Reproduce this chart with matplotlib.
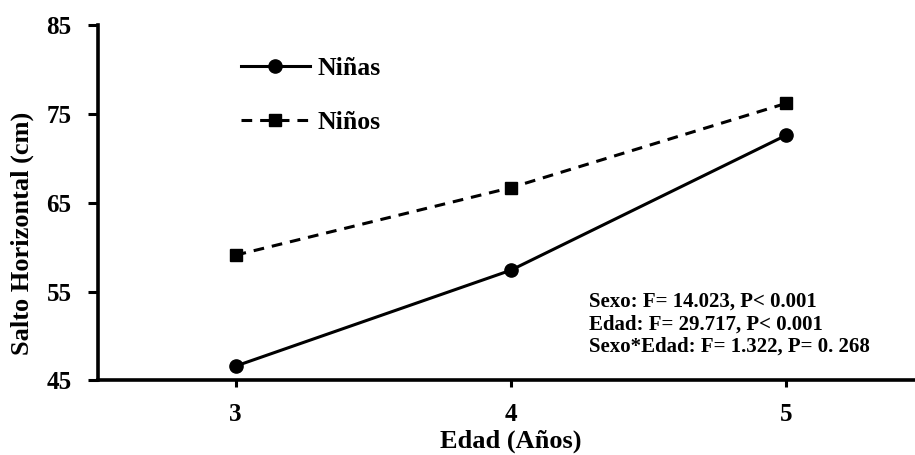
import matplotlib
matplotlib.use("Agg")
import matplotlib.pyplot as plt

# Data
edades = [3, 4, 5]
ninas = [46.6, 57.4, 72.6]
ninos = [59.1, 66.7, 76.2]
y_ticks = [45, 55, 65, 75, 85]
stats_lines = [
    "Sexo: F= 14.023, P< 0.001",
    "Edad: F= 29.717, P< 0.001",
    "Sexo*Edad: F= 1.322, P= 0. 268",
]

plt.rcParams["font.family"] = ["Liberation Serif", "DejaVu Serif"]
plt.rcParams["font.weight"] = "bold"

W, H = 915, 455
ax_left, ax_bottom, ax_w, ax_h = 98, 74.7, 825.5, 355
fig = plt.figure(figsize=(W / 100, H / 100), dpi=100)
ax = fig.add_axes([ax_left / W, ax_bottom / H, ax_w / W, ax_h / H])

lw = 2.2
ax.plot(edades, ninas, color="black", lw=lw, marker="o", markersize=9.5,
        label="Niñas", clip_on=False)
ax.plot(edades, ninos, color="black", lw=lw, marker="s", markersize=9,
        linestyle=(0, (3.5, 2.6)), label="Niños", clip_on=False)

ax.set_xlim(2.5, 5.5)
ax.set_ylim(45, 85)
ax.set_xticks(edades)
ax.set_yticks(y_ticks)
ax.tick_params(axis="both", labelsize=18, width=2.2, color="black")
ax.tick_params(axis="y", length=7, pad=12)
ax.tick_params(axis="x", length=5, pad=11)
for lab in ax.get_xticklabels() + ax.get_yticklabels():
    lab.set_fontweight("bold")

for s in ["top", "right"]:
    ax.spines[s].set_visible(False)
for s in ["left", "bottom"]:
    ax.spines[s].set_linewidth(2.6)

ax.set_xlabel("Edad (Años)", fontsize=19, fontweight="bold")
ax.xaxis.set_label_coords((511 - ax_left) / ax_w, -(441 - (H - ax_bottom)) / ax_h)
ax.xaxis.label.set_va("center")
ax.set_ylabel("Salto Horizontal (cm)", fontsize=19, fontweight="bold")
ax.yaxis.set_label_coords((22 - ax_left) / ax_w, ((H - ax_bottom) - 233) / ax_h)
ax.yaxis.label.set_va("center")

leg = ax.legend(loc="upper left",
                bbox_to_anchor=((240.7 - ax_left) / ax_w, 1 - (66 - 25.3 - 9) / ax_h),
                frameon=False, fontsize=18.5, handlelength=2.7,
                labelspacing=1.22, handletextpad=0.28, borderaxespad=0,
                borderpad=0)
for t in leg.get_texts():
    t.set_fontweight("bold")

baselines = [307, 330, 352]
for yb, line in zip(baselines, stats_lines):
    fig.text(589 / W, 1 - yb / H, line, fontsize=15,
             fontweight="bold", va="baseline", ha="left")

fig.savefig("out.png", dpi=100)
